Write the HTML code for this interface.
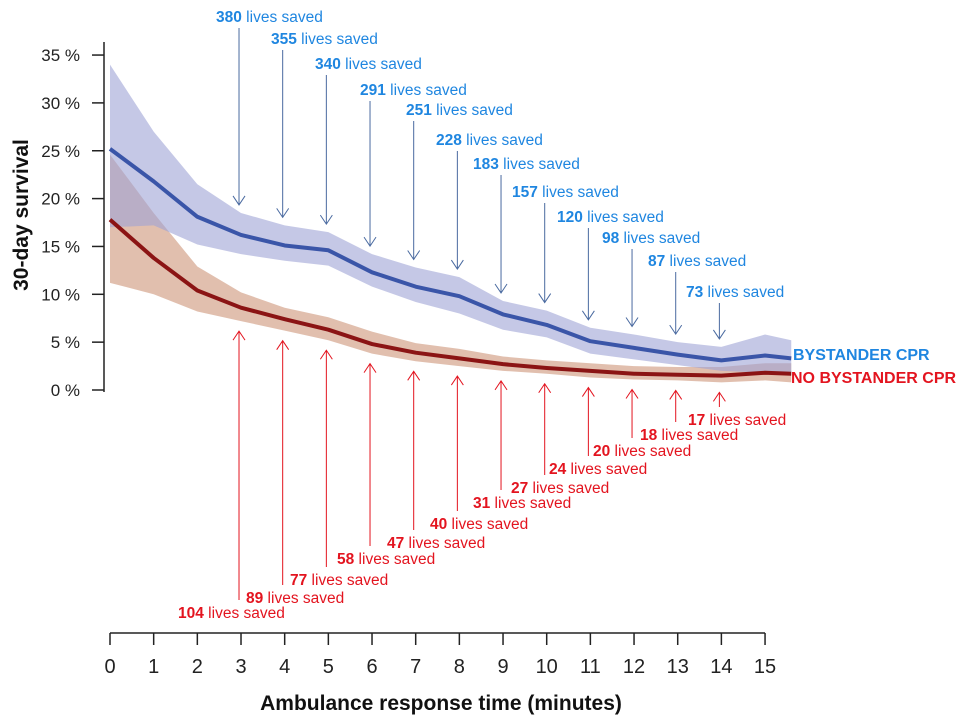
<!DOCTYPE html>
<html><head><meta charset="utf-8"><style>
html,body{margin:0;padding:0;background:#fff;width:961px;height:719px;overflow:hidden}
svg{display:block;font-family:"Liberation Sans",Arial,sans-serif}
</style></head><body>
<svg id="chart" width="961" height="719" viewBox="0 0 961 719"></svg>
<script>
const minutes=[0,1,2,3,4,5,6,7,8,9,10,11,12,13,14,15,15.6];
const bystander=[25.2,21.8,18.1,16.2,15.1,14.6,12.3,10.8,9.8,7.9,6.8,5.1,4.4,3.7,3.1,3.6,3.3];
const bystanderUpper=[34,27,21.5,18.5,17.2,16.5,14.2,12.8,11.8,9.3,8.3,6.5,5.8,5.0,4.5,5.8,5.2];
const bystanderLower=[17.0,17.2,15.2,14.2,13.5,13.0,10.8,9.2,8.0,6.3,5.5,3.8,3.2,2.6,2.0,1.8,1.6];
const noBystander=[17.8,13.8,10.4,8.6,7.4,6.3,4.8,3.9,3.3,2.7,2.3,2.0,1.7,1.6,1.5,1.8,1.7];
const noBystanderUpper=[24.6,18.5,12.9,10.2,8.6,7.6,6.1,4.9,4.3,3.5,3.1,2.8,2.5,2.4,2.4,2.8,2.8];
const noBystanderLower=[11.2,10.0,8.2,7.2,6.2,5.2,3.8,3.0,2.5,2.0,1.7,1.3,1.1,1.0,0.8,1.0,0.8];
const yTicks=[0,5,10,15,20,25,30,35];
const xTicks=[0,1,2,3,4,5,6,7,8,9,10,11,12,13,14,15];
const annotMinutes=[3,4,5,6,7,8,9,10,11,12,13,14];
const livesBystander=[380,355,340,291,251,228,183,157,120,98,87,73];
const livesNoBystander=[104,89,77,58,47,40,31,27,24,20,18,17];
// label layout (positions, not data)
const blueLabelPos=[[216,17],[271,39],[315,64],[360,90],[406,110],[436,140],[473,164],[512,192],[557,217],[602,238],[648,261],[686,292]];
const redLabelPos=[[178,613],[246,598],[290,580],[337,559],[387,543],[430,524],[473,503],[511,488],[549,469],[593,451],[640,435],[688,420]];

const X=m=>110+m*43.67;
const Y=v=>390-v*9.57;
const NS="http://www.w3.org/2000/svg";
const svg=document.getElementById('chart');
function el(tag,attrs,parent){const e=document.createElementNS(NS,tag);for(const k in attrs)e.setAttribute(k,attrs[k]);(parent||svg).appendChild(e);return e;}
function band(up,lo){let d='M'+minutes.map((m,i)=>X(m)+','+Y(up[i])).join('L');for(let i=minutes.length-1;i>=0;i--)d+='L'+X(minutes[i])+','+Y(lo[i]);return d+'Z';}
function line(v){return 'M'+minutes.map((m,i)=>X(m)+','+Y(v[i])).join('L');}

let b1=el('path',{d:band(noBystanderUpper,noBystanderLower),fill:'#c98a6c','fill-opacity':0.55});


let b2=el('path',{d:band(bystanderUpper,bystanderLower),fill:'#9ea3d6','fill-opacity':0.6});


let l1=el('path',{d:line(noBystander),fill:'none',stroke:'#8b1414','stroke-width':4,'stroke-linejoin':'round'});


let l2=el('path',{d:line(bystander),fill:'none',stroke:'#3a55a8','stroke-width':4,'stroke-linejoin':'round'});



// y axis
let ya=el('line',{x1:104,y1:42,x2:104,y2:392,stroke:'#222','stroke-width':1.5});


yTicks.forEach(t=>{
  el('line',{x1:92,y1:Y(t),x2:104,y2:Y(t),stroke:'#222','stroke-width':1.5});
  let tx=el('text',{x:80,y:Y(t)+6,'text-anchor':'end','font-size':17,fill:'#222'});
  tx.textContent=t+' %';
  
  
});
let yt=el('text',{x:0,y:0,transform:'translate(28,215) rotate(-90)','text-anchor':'middle','font-size':21,'font-weight':'bold',fill:'#111'});
yt.textContent='30-day survival';



// x axis
let xa=el('line',{x1:110,y1:633,x2:X(15),y2:633,stroke:'#222','stroke-width':1.5});


xTicks.forEach(t=>{
  el('line',{x1:X(t),y1:633,x2:X(t),y2:645,stroke:'#222','stroke-width':1.5});
  let tx=el('text',{x:X(t),y:673,'text-anchor':'middle','font-size':20,fill:'#222'});
  tx.textContent=t;
  
  
});
let xt=el('text',{x:441,y:710,'text-anchor':'middle','font-size':21,'font-weight':'bold',fill:'#111'});
xt.textContent='Ambulance response time (minutes)';



// legend labels
let lg1=el('text',{x:793,y:360,'font-size':16,'font-weight':'bold',fill:'#1f86e0'});
lg1.textContent='BYSTANDER CPR';


let lg2=el('text',{x:791,y:383,'font-size':16,'font-weight':'bold',fill:'#e3141f'});
lg2.textContent='NO BYSTANDER CPR';



function label(x,y,num,color,name){
  let t=el('text',{x:x,y:y+5,'font-size':15.5,fill:color});
  let s=el('tspan',{'font-weight':'bold'},t);s.textContent=num;
  let s2=el('tspan',{},t);s2.textContent=' lives saved';
  
  
}
annotMinutes.forEach((m,i)=>{
  const x=X(m)-2;
  const idx=minutes.indexOf(m);
  const [bx,by]=blueLabelPos[i];
  label(bx,by,livesBystander[i],'#1f86e0','bystander-lives-label');
  const bEnd=Y(bystanderUpper[idx])-8;
  let a=el('path',{d:`M${x},${by+11}L${x},${bEnd}M${x-6},${bEnd-9}L${x},${bEnd}L${x+6},${bEnd-9}`,fill:'none',stroke:'#4a6aa0','stroke-width':1});
  
  
  const [rx,ry]=redLabelPos[i];
  label(rx,ry,livesNoBystander[i],'#e3141f','no-bystander-lives-label');
  const rTop=Y(noBystanderLower[idx])+10;
  let r=el('path',{d:`M${x},${ry-13}L${x},${rTop}M${x-6},${rTop+9}L${x},${rTop}L${x+6},${rTop+9}`,fill:'none',stroke:'#e3141f','stroke-width':1});
  
  
});
</script>
</body></html>
